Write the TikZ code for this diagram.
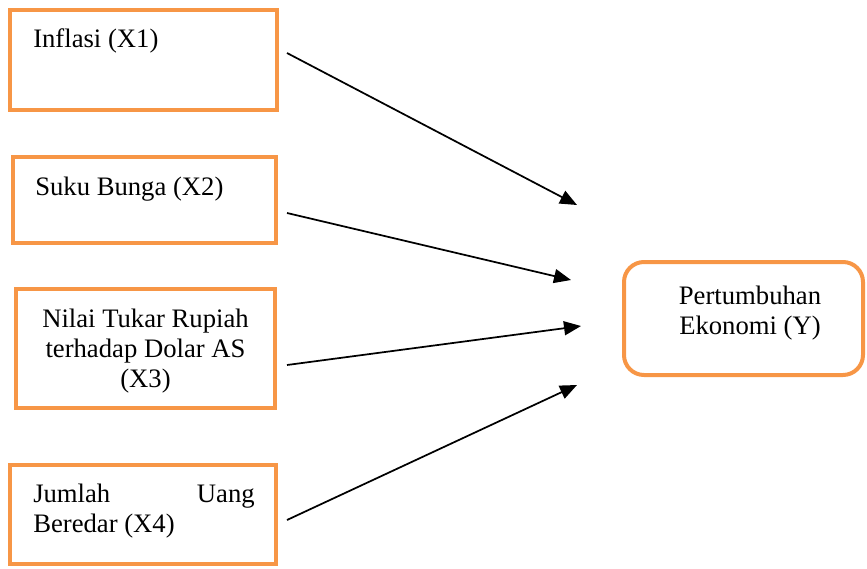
\documentclass[tikz,border=0pt]{standalone}
\usepackage{fontspec}
\setmainfont{Liberation Serif}
\usetikzlibrary{arrows.meta}
\definecolor{boxorange}{HTML}{F79646}
\begin{document}
\begin{tikzpicture}[x=0.75pt,y=-0.75pt,
  varbox/.style={draw=boxorange,line width=3pt,rectangle,inner sep=0pt},
  ybox/.style={draw=boxorange,line width=3pt,rectangle,rounded corners=15pt,inner sep=0pt,minimum width=179.25pt,minimum height=84.75pt},
  lbl/.style={inner sep=0pt,font=\fontsize{20}{22.5}\selectfont},
  conn/.style={line width=1.3pt,-{Triangle[length=12.75pt,width=10.5pt]}}]
\useasboundingbox (0,0) rectangle (867,568);
% boxes
\node[varbox,minimum width=200.25pt,minimum height=75pt] (b1) at (143.5,60) {};
\node[varbox,minimum width=197.25pt,minimum height=64.5pt] (b2) at (144.5,200) {};
\node[varbox,minimum width=194.25pt,minimum height=89.25pt] (b3) at (145.5,348.5) {};
\node[varbox,minimum width=199.5pt,minimum height=74.25pt] (b4) at (143,514.5) {};
\node[ybox] (y) at (743.5,318.5) {};
% texts
\node[lbl,anchor=base west] (t1) at (33,47) {Inflasi (X1)};
\node[lbl,anchor=base west] (t2) at (35,195) {Suku Bunga (X2)};
\node[lbl,anchor=base] (t3a) at (145.5,327) {Nilai Tukar Rupiah};
\node[lbl,anchor=base] (t3b) at (145.5,357) {terhadap Dolar AS};
\node[lbl,anchor=base] (t3c) at (145.5,387) {(X3)};
\node[lbl,anchor=base west] (t4a) at (33,502) {Jumlah};
\node[lbl,anchor=base east] (t4b) at (255,502) {Uang};
\node[lbl,anchor=base west] (t4c) at (33,532) {Beredar (X4)};
\node[lbl,anchor=base] (ty1) at (750,304) {Pertumbuhan};
\node[lbl,anchor=base] (ty2) at (750,334) {Ekonomi (Y)};
% connector ends
\coordinate (s1) at (287,53);
\coordinate (s2) at (287,213);
\coordinate (s3) at (287,365);
\coordinate (s4) at (287,520);
\coordinate (e1) at (577,205);
\coordinate (e2) at (571,280);
\coordinate (e3) at (581,326);
\coordinate (e4) at (577,385);
\draw[conn] (s1) -- (e1);
\draw[conn] (s2) -- (e2);
\draw[conn] (s3) -- (e3);
\draw[conn] (s4) -- (e4);
\end{tikzpicture}
\end{document}
